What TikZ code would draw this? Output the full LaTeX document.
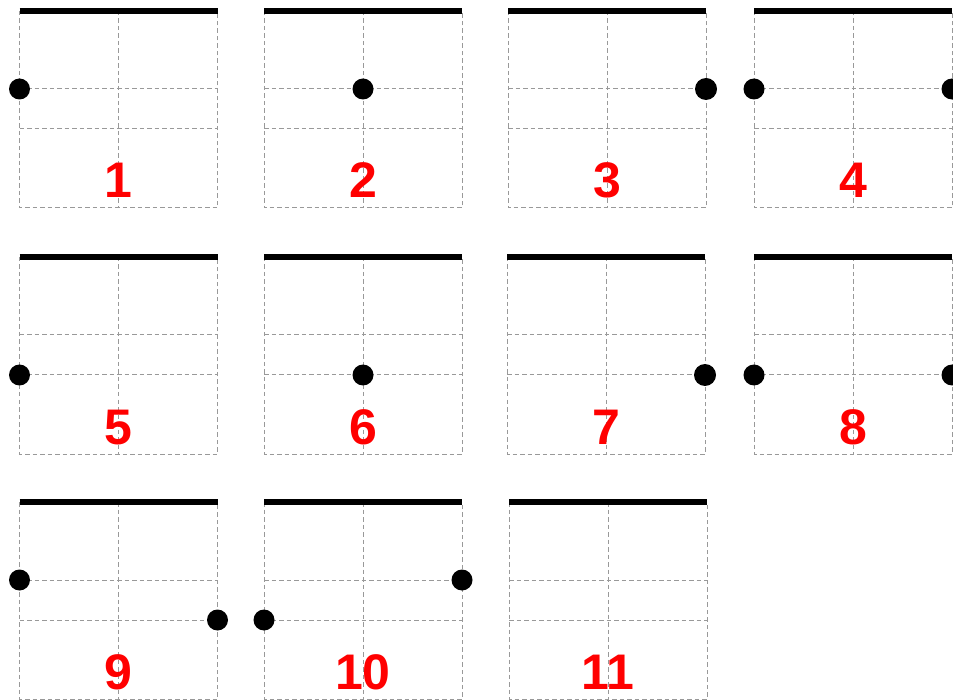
\documentclass[tikz,border=0pt]{standalone}
\usepackage{fontspec}
\setmainfont{Liberation Sans}
\newcommand\gridpanel[4]{% name, x, y, label
  \begin{scope}[shift={(#2,#3)}]
    \draw[gridline] (0,0) rectangle (198,197);
    \draw[gridline] (99,0) -- (99,197);
    \draw[gridline] (0,78) -- (198,78);
    \draw[gridline] (0,118) -- (198,118);
    \draw[topbar] (0,0) -- (198,0);
    \node[lbl] (#1) at (99,187) {#4};
    \coordinate (#1-ul) at (0,78);
    \coordinate (#1-uc) at (99,78);
    \coordinate (#1-ur) at (198,78);
    \coordinate (#1-ll) at (0,118);
    \coordinate (#1-lc) at (99,118);
    \coordinate (#1-lr) at (198,118);
  \end{scope}}
\begin{document}
\begin{tikzpicture}[x=1pt,y=-1pt,
  gridline/.style={draw=gray!80, dash pattern=on 4.5pt off 3pt, line width=1pt},
  topbar/.style={line width=6pt, black},
  dot/.style={circle, fill=black, inner sep=0pt, minimum size=21pt},
  lbl/.style={text=red, font=\bfseries\fontsize{50}{60}\selectfont, anchor=base, inner sep=0pt}]
\useasboundingbox (0,0) rectangle (953,700);
% row 1
\gridpanel{p1}{19.5}{11}{1}
\gridpanel{p2}{264}{11}{2}
\gridpanel{p3}{508}{11}{3}
\gridpanel{p4}{754}{11}{4}
% row 2
\gridpanel{p5}{19.5}{257}{5}
\gridpanel{p6}{264}{257}{6}
\gridpanel{p7}{507}{257}{7}
\gridpanel{p8}{754}{257}{8}
% row 3
\gridpanel{p9}{19.5}{502}{9}
\gridpanel{p10}{264}{502}{10}
\gridpanel{p11}{509}{502}{11}
% dots
\node[dot] (d1) at (p1-ul) {};
\node[dot] (d2) at (p2-uc) {};
\node[dot, minimum size=22pt] (d3) at (p3-ur) {};
\node[dot] (d4a) at (p4-ul) {};
\node[dot] (d4b) at (p4-ur) {};
\node[dot] (d5) at (p5-ll) {};
\node[dot] (d6) at (p6-lc) {};
\node[dot, minimum size=22pt] (d7) at (p7-lr) {};
\node[dot] (d8a) at (p8-ll) {};
\node[dot] (d8b) at (p8-lr) {};
\node[dot] (d9a) at (p9-ul) {};
\node[dot] (d9b) at (p9-lr) {};
\node[dot] (d10a) at (p10-ll) {};
\node[dot] (d10b) at (p10-ur) {};
\end{tikzpicture}
\end{document}
